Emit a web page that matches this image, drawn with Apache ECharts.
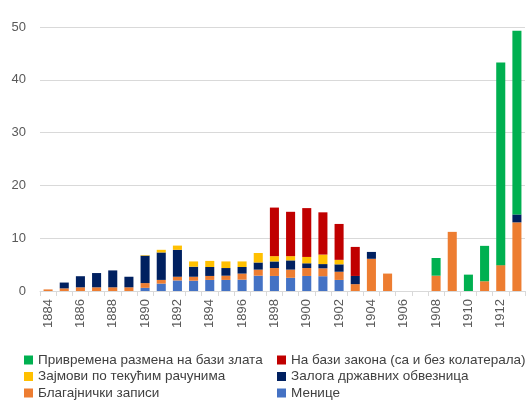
<!DOCTYPE html>
<html><head><meta charset="utf-8">
<script src="https://cdn.jsdelivr.net/npm/echarts@6/dist/echarts.min.js"></script>
<style>html,body{margin:0;padding:0;background:#fff}#c{width:527px;height:403px}</style>
</head><body><div id="c"></div>
<script>
const years = ['1884','1885','1886','1887','1888','1889','1890','1891','1892','1893','1894','1895','1896','1897','1898','1899','1900','1901','1902','1903','1904','1905','1906','1907','1908','1909','1910','1911','1912','1913'];
const menice      = [0,0,0,0,0,0,0.6,1.4,2.0,1.95,2.1,2.1,2.15,2.9,2.85,2.5,2.85,2.8,2.1,0,0,0,0,0,0,0,0,0,0,0];
const blagajnicki = [0.3,0.5,0.7,0.7,0.7,0.7,0.9,0.7,0.7,0.75,0.75,0.8,1.15,1.15,1.5,1.55,1.5,1.5,1.55,1.3,6.1,3.3,0,0,2.9,11.2,0,1.85,4.9,13.0];
const zaloga      = [0,1.1,2.1,2.7,3.2,2.0,5.2,5.2,5.1,1.9,1.7,1.45,1.25,1.35,1.25,1.75,0.9,0.8,1.4,1.55,1.3,0,0,0,0,0,0,0,0,1.5];
const zajmovi     = [0,0,0,0,0,0,0.1,0.5,0.8,1.0,1.15,1.25,1.05,1.8,1.0,0.8,1.2,1.8,0.85,0,0,0,0,0,0,0,0,0,0,0];
const zakon       = [0,0,0,0,0,0,0,0,0,0,0,0,0,0,9.2,8.4,9.25,8.0,6.8,5.5,0,0,0,0,0,0,0,0,0,0];
const zlato       = [0,0,0,0,0,0,0,0,0,0,0,0,0,0,0,0,0,0,0,0,0,0,0,0,3.35,0,3.1,6.7,38.4,34.8];
const yTicks = [0,10,20,30,40,50];

const names = {
  zlato:'Привремена размена на бази злата',
  zakon:'На бази закона (са и без колатерала)',
  zajmovi:'Зајмови по текућим рачунима',
  zaloga:'Залога државних обвезница',
  blag:'Благајнички записи',
  menice:'Менице'
};
const colors = {zlato:'#00B050',zakon:'#C00000',zajmovi:'#FFC000',zaloga:'#002060',blag:'#ED7D31',menice:'#4472C4'};
const nz = a => a.map(v => v === 0 ? null : v);
function s(key, data){
  return {name:names[key], type:'bar', stack:'t', data:nz(data), barCategoryGap:'44%',
    itemStyle:{color:colors[key]}, emphasis:{disabled:true}};
}
const font = 'Liberation Sans';
function leg(key, left, top){
  return {left:left, top:top, padding:0, itemWidth:9, itemHeight:9, icon:'rect',
    textStyle:{color:'#404040', fontSize:13.5, fontFamily:font}, data:[names[key]]};
}
const chart = echarts.init(document.getElementById('c'), null, {renderer:'canvas'});
chart.setOption({
  animation:false,
  textStyle:{fontFamily:font},
  grid:{left:40, right:2, top:27, bottom:112, containLabel:false},
  xAxis:{type:'category', data:years,
    axisLine:{lineStyle:{color:'#d9d9d9'}},
    axisTick:{show:true, interval:0, length:5, lineStyle:{color:'#d9d9d9'}},
    axisLabel:{interval:1, rotate:90, margin:8, color:'#595959', fontSize:13, fontFamily:font}},
  yAxis:{type:'value', min:yTicks[0], max:yTicks[yTicks.length-1], interval:10,
    axisLine:{show:false}, axisTick:{show:false},
    splitLine:{lineStyle:{color:'#d9d9d9'}},
    axisLabel:{margin:14, color:'#595959', fontSize:13, fontFamily:font}},
  legend:[
    leg('zlato',24,353), leg('zakon',277,353),
    leg('zajmovi',24,369.5), leg('zaloga',277,369.5),
    leg('blag',24,386), leg('menice',277,386)
  ],
  series:[s('menice',menice), s('blag',blagajnicki), s('zaloga',zaloga), s('zajmovi',zajmovi), s('zakon',zakon), s('zlato',zlato)]
});
</script></body></html>
